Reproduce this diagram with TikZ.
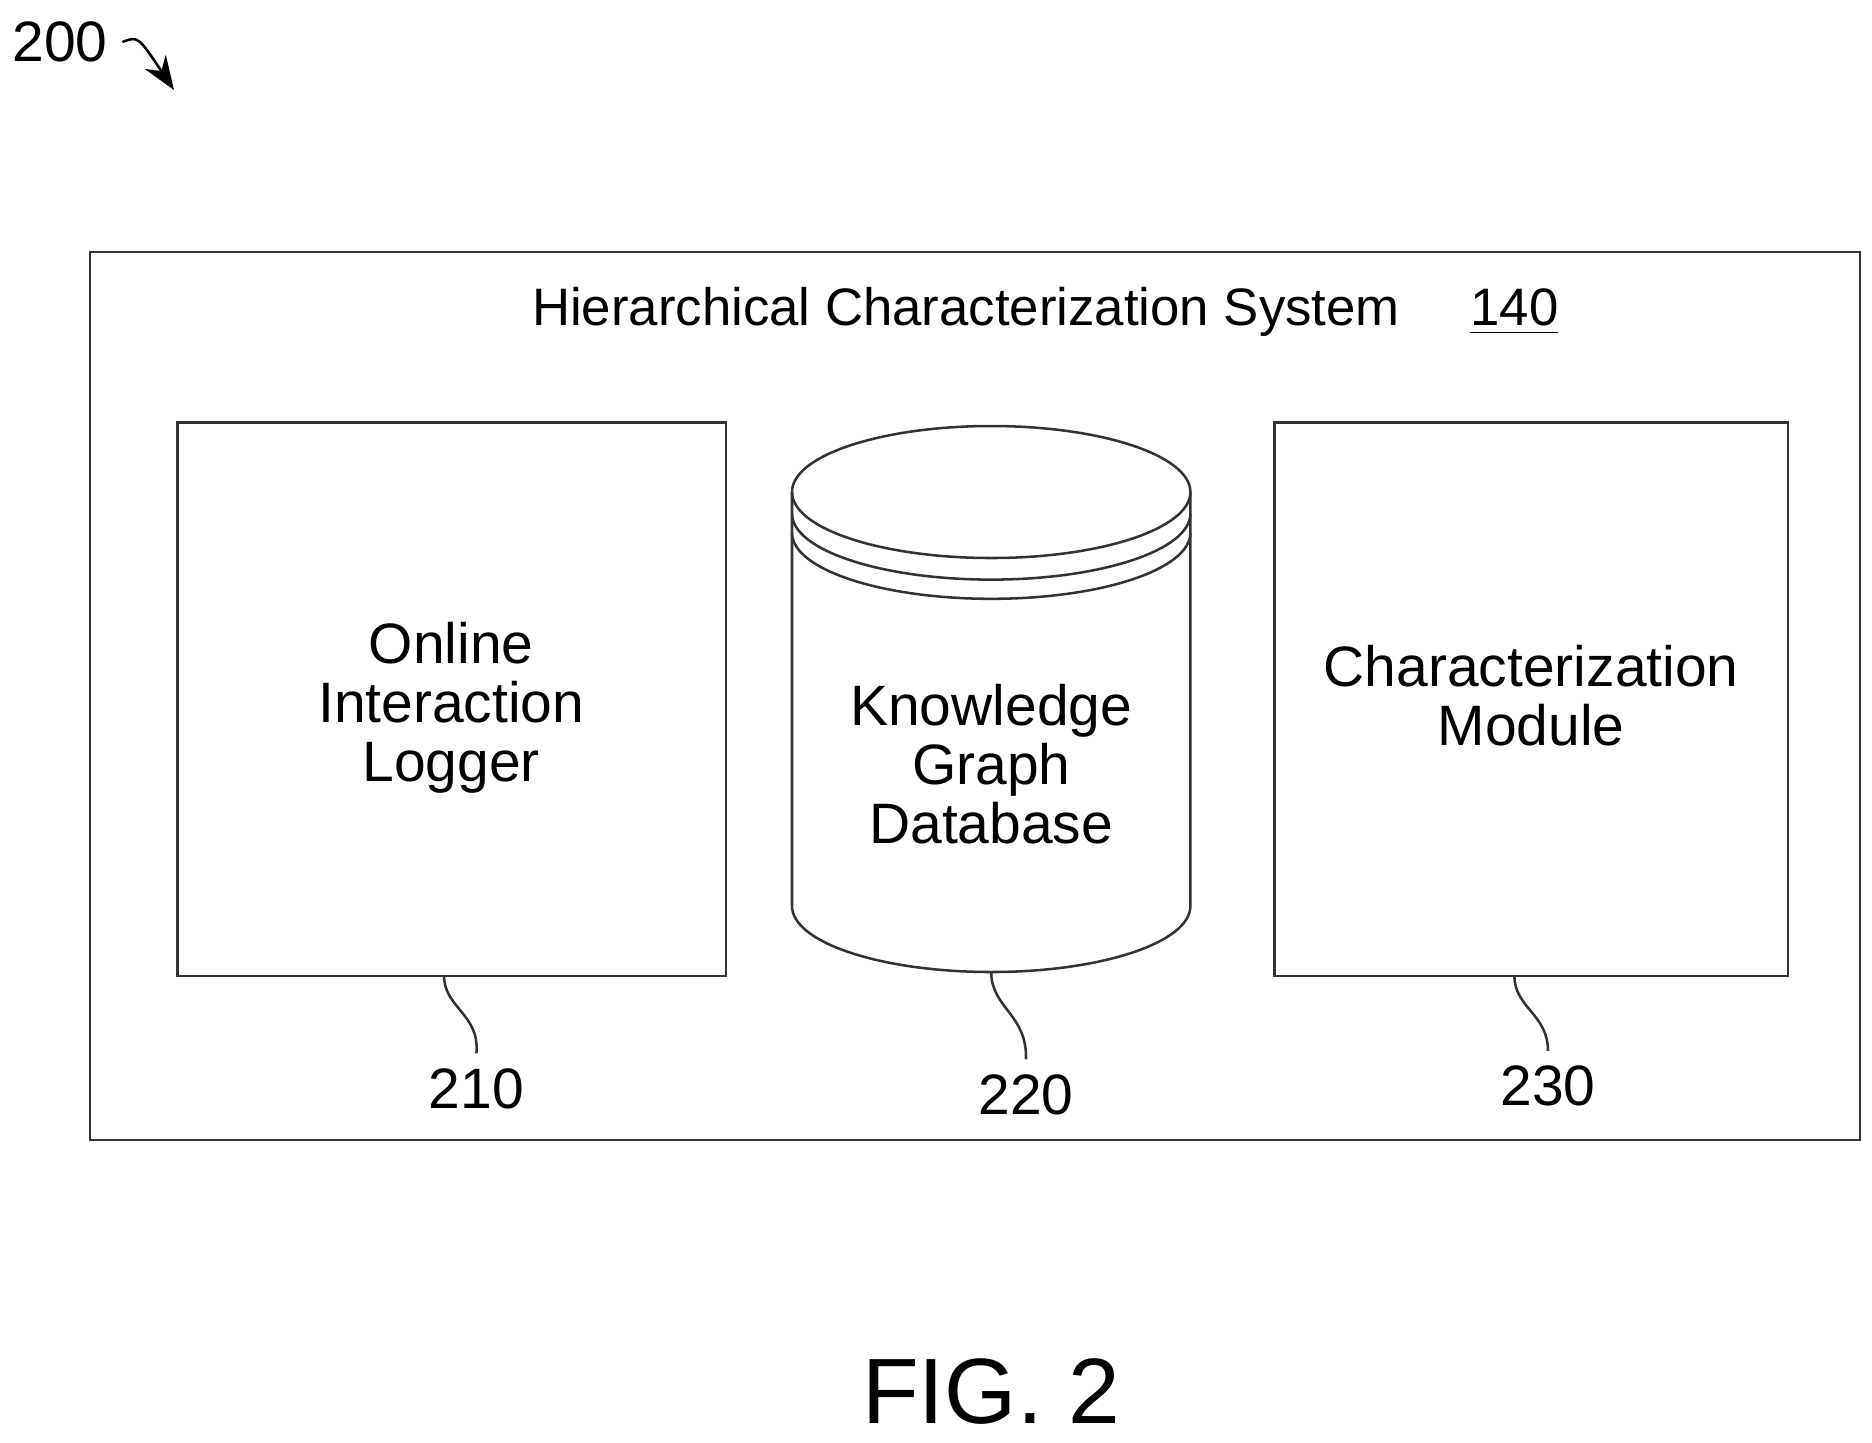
\documentclass[tikz,border=0pt]{standalone}
\usepackage{fontspec}
\setmainfont{Liberation Sans}
\usetikzlibrary{positioning, arrows.meta, decorations.pathmorphing}
\tikzset{
	box/.style={draw, semithick, black!80},
	lbl/.style={font=\fontsize{13.5}{16}\selectfont, align=center},
	num/.style={font=\fontsize{13.5}{16}\selectfont},
	lead/.style={draw, semithick, black!80}
}
\begin{document}
\begin{tikzpicture}[x=0.01cm,y=-0.01cm]
\useasboundingbox (0,0) rectangle (1560,1202);
\node (fig) [num] at (50,35) {200};
\coordinate (figend) at (145,75);
\draw[semithick,-{Stealth[length=8pt]}] (fig.east) .. controls (115,30) .. (figend);
\draw[box] (75,210) rectangle (1550,950);
\node (title) [font=\fontsize{12.5}{15}\selectfont] at (805,260) {Hierarchical Characterization System};
\node (sys) [font=\fontsize{12.5}{15}\selectfont] at (1262,260) {\underline{140}};
\node (logger) [box, minimum width=4.57cm, minimum height=4.61cm] at (376.5,582.5) {};
\node [lbl] at (376,590) {Online\\[-2pt]Interaction\\[-2pt]Logger};
\node (module) [box, minimum width=4.28cm, minimum height=4.61cm] at (1276,582.5) {};
\node [lbl] at (1276,580) {Characterization\\[-2pt]Module};
% cylinder
\draw[box] (826,410) ellipse [x radius=166, y radius=55];
\draw[box] (660,410) -- (660,755) arc[start angle=180, end angle=0, x radius=166, y radius=55] -- (992,410);
\draw[box] (660,428) arc[start angle=180, end angle=0, x radius=166, y radius=55];
\draw[box] (660,444) arc[start angle=180, end angle=0, x radius=166, y radius=55];
\coordinate (db) at (826,810);
\node [lbl] at (826,637) {Knowledge\\[-2pt]Graph\\[-2pt]Database};
% leaders
\node (n210) [num] at (397,907) {210};
\node (n220) [num] at (855,912) {220};
\node (n230) [num] at (1290,905) {230};
\draw[lead] (370,813) .. controls (370,840) and (400,845) .. (n210.north);
\draw[lead] (db) .. controls (826,840) and (856,845) .. (n220.north);
\draw[lead] (1262,813) .. controls (1262,840) and (1290,845) .. (n230.north);
\node (caption) [font=\fontsize{22}{26}\selectfont] at (826,1160) {FIG. 2};
\end{tikzpicture}
\end{document}
